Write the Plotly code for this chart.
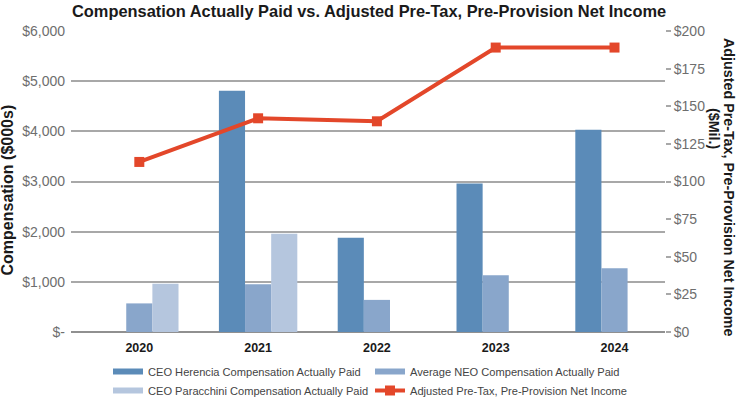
import plotly.graph_objects as go

years = ["2020", "2021", "2022", "2023", "2024"]
herencia = [None, 4810, 1880, 2960, 4030]
neo = [570, 950, 640, 1130, 1270]
paracchini = [960, 1960, None, None, None]
pptni = [113, 142, 140, 189, 189]

left_tickvals = [0, 1000, 2000, 3000, 4000, 5000, 6000]
left_ticktext = ["$-", "$1,000", "$2,000", "$3,000", "$4,000", "$5,000", "$6,000"]
right_tickvals = [0, 25, 50, 75, 100, 125, 150, 175, 200]
right_ticktext = ["$0", "$25", "$50", "$75", "$100", "$125", "$150", "$175", "$200"]

FONT = "Liberation Sans, Arial, sans-serif"
C_HER = "#5b8bb8"
C_NEO = "#89a6cb"
C_PAR = "#b5c6de"
C_LINE = "#e3472a"

fig = go.Figure()
fig.add_trace(go.Bar(x=years, y=herencia, name="CEO Herencia Compensation Actually Paid",
                     marker=dict(color=C_HER, line=dict(width=0)), showlegend=False))
fig.add_trace(go.Bar(x=years, y=neo, name="Average NEO Compensation Actually Paid",
                     marker=dict(color=C_NEO, line=dict(width=0)), showlegend=False))
fig.add_trace(go.Bar(x=years, y=paracchini, name="CEO Paracchini Compensation Actually Paid",
                     marker=dict(color=C_PAR, line=dict(width=0)), showlegend=False))
# legend proxies with wide rectangular swatches
fig.add_trace(go.Scatter(x=[None], y=[None], mode="lines", name="CEO Herencia Compensation Actually Paid",
                         line=dict(color=C_HER, width=6), legend="legend"))
fig.add_trace(go.Scatter(x=[None], y=[None], mode="lines", name="CEO Paracchini Compensation Actually Paid",
                         line=dict(color=C_PAR, width=6), legend="legend"))
fig.add_trace(go.Scatter(x=[None], y=[None], mode="lines", name="Average NEO Compensation Actually Paid",
                         line=dict(color=C_NEO, width=6), legend="legend2"))
fig.add_trace(go.Scatter(x=years, y=pptni, name="Adjusted Pre-Tax, Pre-Provision Net Income",
                         yaxis="y2", mode="lines+markers",
                         line=dict(color=C_LINE, width=4),
                         marker=dict(symbol="square", size=10, color=C_LINE),
                         legend="legend2"))

legfont = dict(size=11.1, color="#444", family=FONT)
leg_y = -(357 - 332) / 301
fig.update_layout(
    width=738, height=397,
    margin=dict(l=71, r=73, t=31, b=65, autoexpand=False),
    paper_bgcolor="white", plot_bgcolor="white",
    font=dict(family=FONT, color="#555"),
    barmode="group", bargap=0.34, bargroupgap=0,
    title=dict(text="<b>Compensation Actually Paid vs. Adjusted Pre-Tax, Pre-Provision Net Income</b>",
               x=72 / 738, xanchor="left", y=1 - 11 / 397, yanchor="middle", yref="container",
               font=dict(size=16.4, color="#1a1a1a", family=FONT)),
    xaxis=dict(range=[-0.575, 4.425],
               tickfont=dict(size=12.5, color="#1a1a1a", family=FONT, weight="bold"),
               showgrid=False, showline=False, zeroline=False, ticklabelstandoff=6),
    yaxis=dict(range=[0, 6000], tickvals=left_tickvals, ticktext=left_ticktext,
               tickfont=dict(size=14, color="#6e6e6e"), gridcolor="#a8a8a8", gridwidth=1.5,
               zeroline=True, zerolinecolor="#909090", zerolinewidth=2, ticklabelstandoff=5),
    yaxis2=dict(range=[0, 200], tickvals=right_tickvals, ticktext=right_ticktext, overlaying="y",
                side="right", showgrid=False, zeroline=False,
                ticks="outside", ticklen=5, tickcolor="#a8a8a8", tickwidth=1.5,
                tickfont=dict(size=14, color="#6e6e6e")),
    legend=dict(orientation="v", x=(108 - 71) / 594, xanchor="left", y=leg_y, yanchor="top",
                traceorder="normal", font=legfont, tracegroupgap=0, bgcolor="rgba(0,0,0,0)"),
    legend2=dict(orientation="v", x=(370 - 71) / 594, xanchor="left", y=leg_y, yanchor="top",
                 traceorder="normal", font=legfont, tracegroupgap=0, bgcolor="rgba(0,0,0,0)"),
    annotations=[
        dict(text="<b>Compensation ($000s)</b>", xref="paper", yref="paper", x=0, xshift=-54,
             xanchor="right", y=(397 - 190 - 65) / 301, yanchor="middle", textangle=-90, showarrow=False,
             font=dict(size=16, color="#1a1a1a")),
        dict(text="<b>Adjusted Pre-Tax, Pre-Provision Net Income</b>", xref="paper", yref="paper",
             x=1.0, xshift=729 - 665, xanchor="center", y=(397 - 187 - 65) / 301, yanchor="middle",
             textangle=90, showarrow=False, font=dict(size=14.3, color="#1a1a1a")),
        dict(text="<b>($Mil.)</b>", xref="paper", yref="paper",
             x=1.0, xshift=714 - 665, xanchor="center", y=(397 - 129 - 65) / 301, yanchor="middle",
             textangle=90, showarrow=False, font=dict(size=14.3, color="#1a1a1a")),
    ],
)

fig.write_html("out.html", config={"displayModeBar": False},
               post_script="document.body.style.margin='0';document.body.style.padding='0';")
